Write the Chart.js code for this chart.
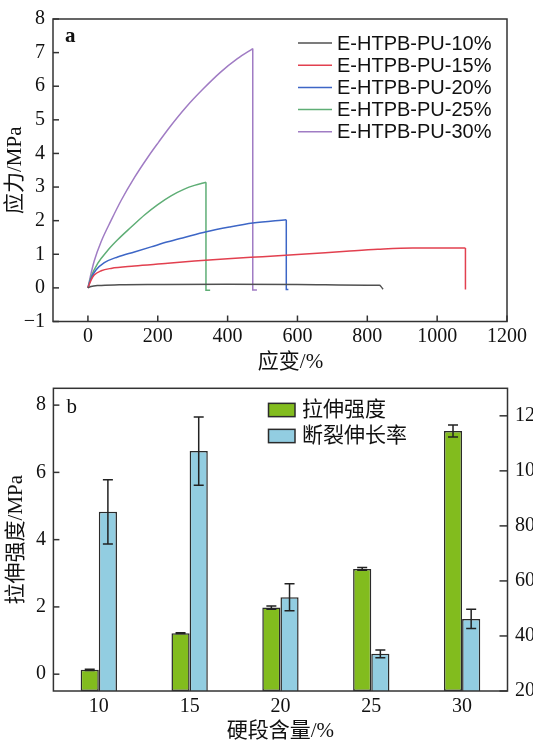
<!DOCTYPE html>
<html>
<head>
<meta charset="utf-8">
<script src="https://cdn.jsdelivr.net/npm/chart.js@4.4.0/dist/chart.umd.min.js"></script>
<style>
  body { margin: 0; background: #fff; overflow: hidden; }
  .box { position: absolute; left: 0; width: 533px; }
  #topBox { top: 0; height: 380px; }
  #botBox { top: 380px; height: 364px; }
</style>
</head>
<body>
<div class="box" id="topBox"><canvas id="curves"></canvas></div>
<div class="box" id="botBox"><canvas id="bars"></canvas></div>
<script>
// (a) stress-strain curves, pairs of [strain %, stress MPa]
const s10 = [[0,0],[9,0.04],[30,0.07],[90,0.09],[200,0.1],[400,0.11],[600,0.1],[800,0.08],[835,0.08],[840,0.03],[845,-0.04]];
const s15 = [[0,0],[9,0.23],[18,0.38],[38,0.51],[66,0.58],[133,0.65],[229,0.73],[305,0.8],[400,0.87],[500,0.93],[600,0.99],[740,1.09],[830,1.15],[930,1.19],[1081,1.19],[1081,-0.05]];
const s20 = [[0,0],[9,0.28],[23,0.53],[47,0.75],[85,0.92],[133,1.07],[181,1.22],[229,1.37],[276,1.5],[339,1.67],[405,1.81],[472,1.93],[568,2.03],[568,-0.05],[574,-0.05]];
const s25 = [[0,0],[9,0.33],[28,0.73],[57,1.12],[85,1.43],[124,1.81],[162,2.17],[200,2.48],[238,2.74],[276,2.94],[305,3.05],[338,3.14],[338,-0.07],[350,-0.07]];
const s30 = [[0,0],[9,0.43],[18,0.8],[38,1.38],[66,2.0],[95,2.6],[133,3.28],[171,3.88],[202,4.33],[234,4.78],[282,5.39],[331,5.93],[380,6.42],[428,6.82],[472,7.12],[472,-0.06],[484,-0.06]];
const curveLabels = ['E-HTPB-PU-10%', 'E-HTPB-PU-15%', 'E-HTPB-PU-20%', 'E-HTPB-PU-25%', 'E-HTPB-PU-30%'];
const xTicksA = [0, 200, 400, 600, 800, 1000, 1200];
const yTicksA = [-1, 0, 1, 2, 3, 4, 5, 6, 7, 8];

// (b) bars
const hardSeg = ['10', '15', '20', '25', '30'];
const strength = [0.13, 1.22, 1.98, 3.13, 7.23];
const strengthErr = [0.02, 0.01, 0.05, 0.04, 0.18];
const elongation = [85.1, 107.2, 54.1, 33.5, 46.2];
const elongationErr = [11.7, 12.4, 4.9, 1.4, 3.5];
const yTicksL = [0, 2, 4, 6, 8];
const yTicksR = [20, 40, 60, 80, 100, 120];

const curveColors = ['#505050', '#e2404f', '#3d66c6', '#5fae76', '#a07cc4'];
const serif = "'Liberation Serif', 'Noto Sans CJK SC', serif";

Chart.defaults.font.family = serif;
Chart.defaults.color = '#111';
Chart.defaults.animation = false;

// fixed axis sizes so the plot areas land where they should
function fixSize(w, h) {
  return s => {
    if (w != null) s.width = w;
    if (h != null) s.height = h;
    s.paddingLeft = s.paddingRight = s.paddingTop = s.paddingBottom = 0;
  };
}
function useTicks(list) {
  return s => { s.ticks = list.map(v => ({ value: v })); };
}
const plain = v => String(v).replace('-', '\u2212');

// frame + inward ticks + panel letter
const framePlugin = {
  id: 'frame',
  afterDraw(chart, args, opts) {
    const { ctx, chartArea: a } = chart;
    ctx.save();
    ctx.strokeStyle = '#333';
    ctx.lineWidth = 1.5;
    (opts.ticks || []).forEach(t => {
      const sc = chart.scales[t.axis];
      sc.ticks.forEach(tk => {
        const p = sc.getPixelForValue(tk.value);
        ctx.beginPath();
        if (t.side === 'bottom') { ctx.moveTo(p, a.bottom); ctx.lineTo(p, a.bottom - t.len); }
        else if (t.side === 'left') { ctx.moveTo(a.left, p); ctx.lineTo(a.left + t.len, p); }
        else { ctx.moveTo(a.right, p); ctx.lineTo(a.right - t.len, p); }
        ctx.stroke();
      });
    });
    ctx.strokeRect(a.left, a.top, a.right - a.left, a.bottom - a.top);
    if (opts.letter) {
      ctx.fillStyle = '#111';
      ctx.font = opts.letterFont;
      ctx.textBaseline = 'alphabetic';
      ctx.fillText(opts.letter, opts.lx, opts.ly);
    }
    ctx.restore();
  }
};

// legend for the curves
const lineLegend = {
  id: 'lineLegend',
  afterDraw(chart, args, opts) {
    const ctx = chart.ctx;
    ctx.save();
    ctx.font = opts.font;
    ctx.textBaseline = 'middle';
    let row = 0;
    chart.data.datasets.forEach(ds => {
      if (!ds.inLegend) return;
      const y = opts.y + row * opts.rowH;
      ctx.strokeStyle = ds.borderColor;
      ctx.lineWidth = 1.5;
      ctx.beginPath();
      ctx.moveTo(opts.x, y);
      ctx.lineTo(opts.x + opts.len, y);
      ctx.stroke();
      ctx.fillStyle = '#111';
      ctx.fillText(ds.label, opts.x + opts.len + opts.gap, y + 1);
      row++;
    });
    ctx.restore();
  }
};

// legend for the bars
const boxLegend = {
  id: 'boxLegend',
  afterDraw(chart, args, opts) {
    const ctx = chart.ctx;
    ctx.save();
    ctx.font = opts.font;
    ctx.textBaseline = 'middle';
    chart.data.datasets.forEach((ds, i) => {
      const y = opts.y + i * opts.rowH;
      ctx.fillStyle = ds.backgroundColor;
      ctx.fillRect(opts.x, y - opts.h / 2, opts.w, opts.h);
      ctx.strokeStyle = '#2b2b2b';
      ctx.lineWidth = 1.5;
      ctx.strokeRect(opts.x, y - opts.h / 2, opts.w, opts.h);
      ctx.fillStyle = '#111';
      ctx.fillText(ds.label, opts.x + opts.w + opts.gap, y);
    });
    ctx.restore();
  }
};

// error bars drawn at each bar through its own scale
const errorBars = {
  id: 'errorBars',
  afterDatasetsDraw(chart) {
    const ctx = chart.ctx;
    ctx.save();
    ctx.strokeStyle = '#222';
    ctx.lineWidth = 1.5;
    chart.data.datasets.forEach((ds, i) => {
      const meta = chart.getDatasetMeta(i);
      const sc = chart.scales[ds.yAxisID];
      meta.data.forEach((bar, j) => {
        const v = ds.data[j], e = ds.err[j];
        const y1 = sc.getPixelForValue(v + e), y2 = sc.getPixelForValue(v - e);
        const x = bar.x, c = 5;
        ctx.beginPath();
        ctx.moveTo(x, y1); ctx.lineTo(x, y2);
        ctx.moveTo(x - c, y1); ctx.lineTo(x + c, y1);
        ctx.moveTo(x - c, y2); ctx.lineTo(x + c, y2);
        ctx.stroke();
      });
    });
    ctx.restore();
  }
};

// ---- chart a ----
const curveSets = [];
[s10, s15, s20, s25, s30].forEach((pts, k) => {
  const cut = pts.findIndex((p, i) => i > 0 && p[0] === pts[i - 1][0]);
  const main = cut < 0 ? pts : pts.slice(0, cut);
  const tail = cut < 0 ? [] : pts.slice(cut - 1);
  curveSets.push({
    label: curveLabels[k], inLegend: true,
    data: main.map(p => ({ x: p[0], y: p[1] })),
    borderColor: curveColors[k], borderWidth: 1.5, pointRadius: 0,
    cubicInterpolationMode: 'monotone', tension: 0.4
  });
  if (tail.length) curveSets.push({
    label: curveLabels[k] + ' tail',
    data: tail.map(p => ({ x: p[0], y: p[1] })),
    borderColor: curveColors[k], borderWidth: 1.5, pointRadius: 0, tension: 0
  });
});

new Chart(document.getElementById('curves'), {
  type: 'line',
  data: { datasets: curveSets },
  options: {
    responsive: true,
    maintainAspectRatio: false,
    layout: { padding: { top: 19, right: 26, left: 0, bottom: 0 } },
    plugins: {
      legend: { display: false },
      tooltip: { enabled: false },
      frame: {
        ticks: [{ axis: 'x', side: 'bottom', len: 6 }, { axis: 'y', side: 'left', len: 6 }],
        letter: 'a', letterFont: "bold 21px " + serif, lx: 65, ly: 41.5
      },
      lineLegend: { x: 298, y: 43, rowH: 22.2, len: 34, gap: 5, font: "20px 'Liberation Sans', sans-serif" }
    },
    scales: {
      x: {
        type: 'linear', min: -100, max: 1200,
        afterBuildTicks: useTicks(xTicksA),
        afterFit: fixSize(null, 58.5),
        grid: { display: false, drawTicks: false },
        border: { display: false },
        ticks: { font: { size: 20 }, padding: 3, maxRotation: 0, callback: plain },
        title: { display: true, text: '\u2003应变/%', font: { size: 21 }, padding: { top: 0, bottom: 5 } }
      },
      y: {
        min: -1, max: 8,
        afterBuildTicks: useTicks(yTicksA),
        afterFit: fixSize(53, null),
        grid: { display: false, drawTicks: false },
        border: { display: false },
        ticks: { font: { size: 20 }, padding: 8, callback: plain },
        title: { display: true, text: '应力/MPa', font: { size: 21 }, padding: { top: 3, bottom: 0 } }
      }
    }
  },
  plugins: [framePlugin, lineLegend]
});

// ---- chart b ----
new Chart(document.getElementById('bars'), {
  type: 'bar',
  data: {
    labels: hardSeg,
    datasets: [
      { label: '拉伸强度', data: strength, err: strengthErr, yAxisID: 'y', base: -0.5,
        backgroundColor: '#82bc1e', borderColor: '#2b2b2b', borderWidth: 1.5, borderSkipped: false,
        categoryPercentage: 0.4, barPercentage: 1.0 },
      { label: '断裂伸长率', data: elongation, err: elongationErr, yAxisID: 'y1',
        backgroundColor: '#92cde1', borderColor: '#2b2b2b', borderWidth: 1.5, borderSkipped: false,
        categoryPercentage: 0.4, barPercentage: 1.0 }
    ]
  },
  options: {
    responsive: true,
    maintainAspectRatio: false,
    layout: { padding: { top: 8.3, right: 0, left: 0, bottom: 0 } },
    plugins: {
      legend: { display: false },
      tooltip: { enabled: false },
      frame: {
        ticks: [{ axis: 'y', side: 'left', len: 6 }, { axis: 'y1', side: 'right', len: 8 }],
        letter: 'b', letterFont: "21px " + serif, lx: 66.5, ly: 33.3
      },
      boxLegend: { x: 268.5, y: 30, rowH: 26, w: 26.5, h: 13.3, gap: 7, font: "21px " + serif }
    },
    scales: {
      x: {
        afterFit: fixSize(null, 53),
        grid: { display: false, drawTicks: false },
        border: { display: false },
        ticks: { font: { size: 20 }, padding: 4 },
        title: { display: true, text: '硬段含量/%', font: { size: 21 }, padding: { top: 0, bottom: 0 } }
      },
      y: {
        position: 'left', min: -0.5, max: 8.5,
        afterBuildTicks: useTicks(yTicksL),
        afterFit: fixSize(53.4, null),
        grid: { display: false, drawTicks: false },
        border: { display: false },
        ticks: { font: { size: 20 }, padding: 7.5, callback: plain },
        title: { display: true, text: '拉伸强度/MPa', font: { size: 21 }, padding: { top: 4, bottom: 0 } }
      },
      y1: {
        position: 'right', min: 20, max: 130,
        afterBuildTicks: useTicks(yTicksR),
        afterFit: fixSize(25.5, null),
        grid: { display: false, drawTicks: false },
        border: { display: false },
        ticks: { font: { size: 20 }, padding: 7.5, callback: plain }
      }
    }
  },
  plugins: [errorBars, framePlugin, boxLegend]
});
</script>
</body>
</html>
